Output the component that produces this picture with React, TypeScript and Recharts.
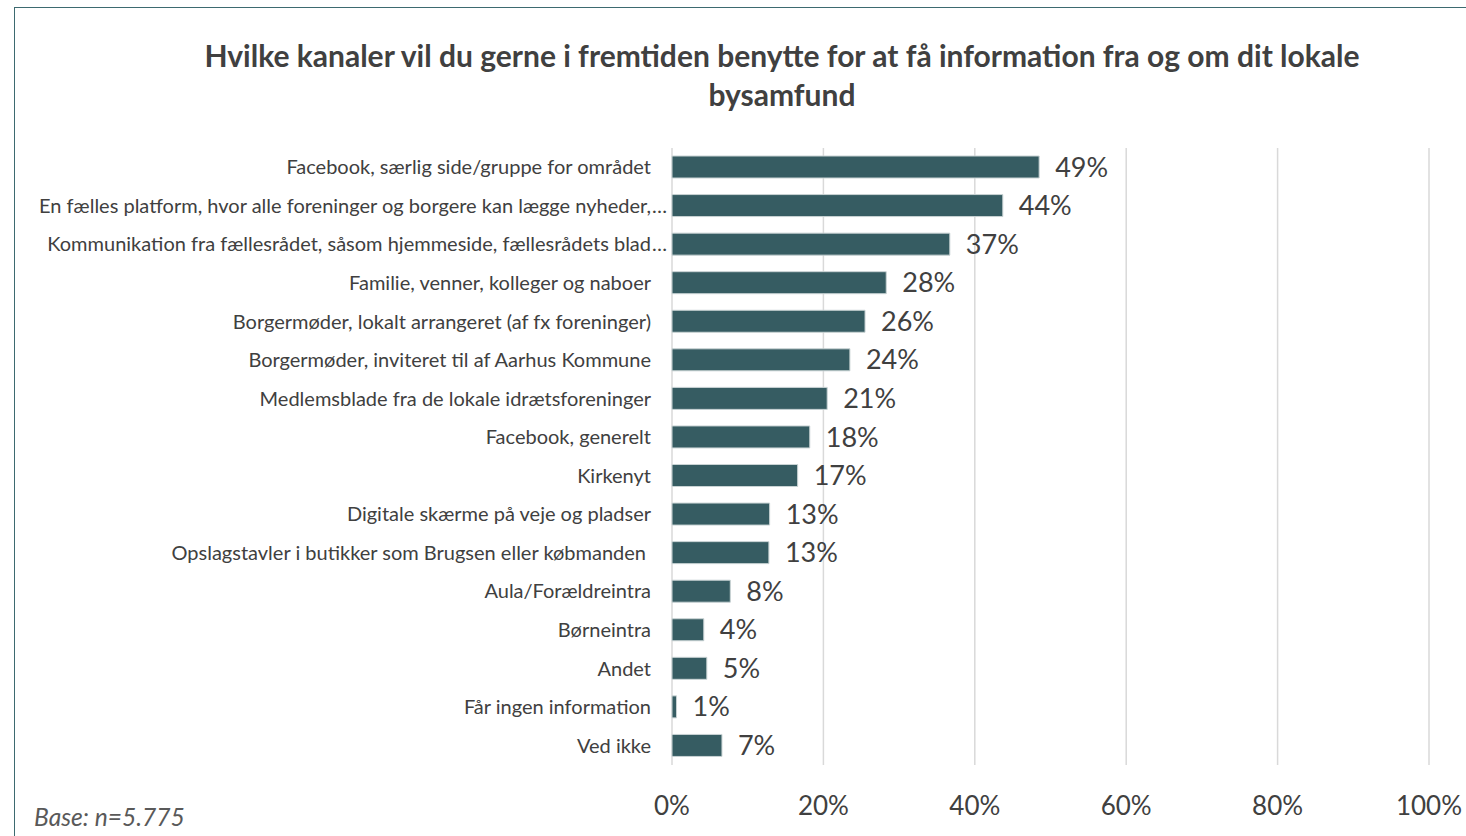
import { BarChart, Bar, XAxis, YAxis, CartesianGrid, LabelList } from 'recharts';

const categories = [
  'Facebook, særlig side/gruppe for området',
  'En fælles platform, hvor alle foreninger og borgere kan lægge nyheder,…',
  'Kommunikation fra fællesrådet, såsom hjemmeside, fællesrådets blad…',
  'Familie, venner, kolleger og naboer',
  'Borgermøder, lokalt arrangeret (af fx foreninger)',
  'Borgermøder, inviteret til af Aarhus Kommune',
  'Medlemsblade fra de lokale idrætsforeninger',
  'Facebook, generelt',
  'Kirkenyt',
  'Digitale skærme på veje og pladser',
  'Opslagstavler i butikker som Brugsen eller købmanden ',
  'Aula/Forældreintra',
  'Børneintra',
  'Andet',
  'Får ingen information',
  'Ved ikke',
];

const shares = [48.5, 43.7, 36.7, 28.3, 25.5, 23.5, 20.5, 18.2, 16.6, 12.9, 12.8, 7.7, 4.2, 4.6, 0.6, 6.6];

const xTicks = [0, 20, 40, 60, 80, 100];

const data = categories.map((name, i) => ({ name, value: shares[i] }));

const FONT = 'Lato, "Open Sans", sans-serif';
const TEXT = '#404040';

// long labels are cut with an ellipsis that hangs past the label column
const CategoryTick = (props: any) => {
  const { x, y, payload } = props;
  const raw: string = payload.value;
  const cut = raw.endsWith('…');
  const main = cut ? raw.slice(0, -1) : raw.replace(/ $/, '');
  const shift = raw.endsWith(' ') ? -5 : 0;
  return (
    <g>
      <text x={x + shift} y={y} dy="0.35em" textAnchor="end" fontSize={20} fill={TEXT} fontFamily={FONT}>
        {main}
      </text>
      {cut && (
        <text x={x + 1} y={y} dy="0.35em" textAnchor="start" fontSize={20} fill={TEXT} fontFamily={FONT}>
          …
        </text>
      )}
    </g>
  );
};

export default function App() {
  return (
    <div style={{ position: 'relative', width: 1466, height: 836, overflow: 'hidden', background: '#fff', fontFamily: FONT }}>
      <style>{'body{margin:0}'}</style>
      <div style={{ position: 'absolute', left: 14, top: 7, width: 1600, height: 1000, borderLeft: '1.5px solid #3d6a70', borderTop: '1.5px solid #3d6a70' }} />
      <div style={{ position: 'absolute', left: 132, width: 1300, top: 36, textAlign: 'center', fontWeight: 700, fontSize: 30, lineHeight: '39px', color: TEXT }}>
        Hvilke kanaler vil du gerne i fremtiden benytte for at få information fra og om dit lokale
        <br />
        bysamfund
      </div>
      <div style={{ position: 'absolute', left: 34, top: 802, fontStyle: 'italic', fontSize: 24.6, color: '#595959' }}>
        Base: n=5.775
      </div>
      <div style={{ position: 'absolute', left: 0, top: 0 }}>
        <BarChart
          width={1466}
          height={836}
          data={data}
          layout="vertical"
          margin={{ top: 148, right: 37, bottom: 0, left: 0 }}
        >
          <CartesianGrid horizontal={false} stroke="#d9d9d9" strokeWidth={1.5} />
          <XAxis
            type="number"
            domain={[0, 100]}
            ticks={xTicks}
            tickFormatter={(v: number) => `${v}%`}
            axisLine={false}
            tickLine={false}
            height={71}
            tickMargin={26}
            tick={{ fontSize: 26, fill: TEXT, fontFamily: FONT }}
            interval={0}
          />
          <YAxis
            type="category"
            dataKey="name"
            width={672}
            axisLine={false}
            tickLine={false}
            tickMargin={15}
            tick={<CategoryTick />}
            interval={0}
          />
          <Bar dataKey="value" fill="#365c62" stroke="#c9d3d4" strokeWidth={1} barSize={22} isAnimationActive={false}>
            <LabelList
              dataKey="value"
              position="right"
              offset={16}
              formatter={(v: number) => `${Math.round(v)}%`}
              style={{ fontSize: 27, fill: TEXT, fontFamily: FONT }}
            />
          </Bar>
        </BarChart>
      </div>
    </div>
  );
}
